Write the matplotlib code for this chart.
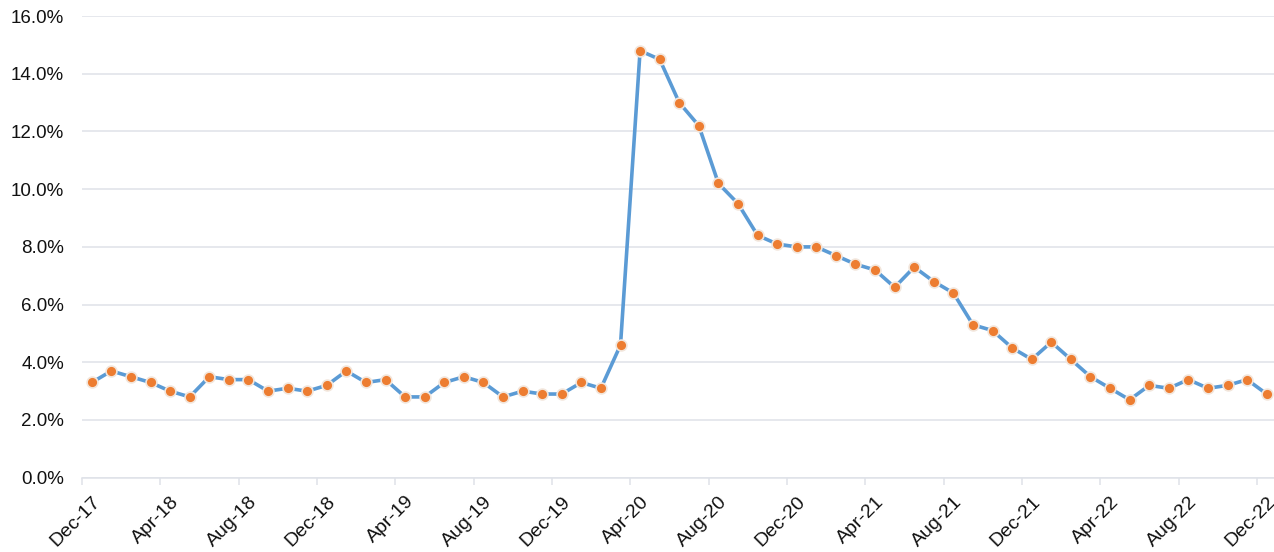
import numpy as np
import matplotlib.pyplot as plt
from matplotlib.ticker import FuncFormatter

plt.rcParams['font.family'] = ['Liberation Sans', 'DejaVu Sans']

# monthly values, Dec-17 .. Dec-22
months = ['Dec-17', 'Jan-18', 'Feb-18', 'Mar-18', 'Apr-18', 'May-18', 'Jun-18', 'Jul-18', 'Aug-18',
          'Sep-18', 'Oct-18', 'Nov-18', 'Dec-18', 'Jan-19', 'Feb-19', 'Mar-19', 'Apr-19', 'May-19',
          'Jun-19', 'Jul-19', 'Aug-19', 'Sep-19', 'Oct-19', 'Nov-19', 'Dec-19', 'Jan-20', 'Feb-20',
          'Mar-20', 'Apr-20', 'May-20', 'Jun-20', 'Jul-20', 'Aug-20', 'Sep-20', 'Oct-20', 'Nov-20',
          'Dec-20', 'Jan-21', 'Feb-21', 'Mar-21', 'Apr-21', 'May-21', 'Jun-21', 'Jul-21', 'Aug-21',
          'Sep-21', 'Oct-21', 'Nov-21', 'Dec-21', 'Jan-22', 'Feb-22', 'Mar-22', 'Apr-22', 'May-22',
          'Jun-22', 'Jul-22', 'Aug-22', 'Sep-22', 'Oct-22', 'Nov-22', 'Dec-22']
rate = [3.3, 3.7, 3.5, 3.3, 3.0, 2.8, 3.5, 3.4, 3.4, 3.0, 3.1, 3.0, 3.2,
        3.7, 3.3, 3.4, 2.8, 2.8, 3.3, 3.5, 3.3, 2.8, 3.0, 2.9, 2.9,
        3.3, 3.1, 4.6, 14.8, 14.5, 13.0, 12.2, 10.2, 9.5, 8.4, 8.1, 8.0,
        8.0, 7.7, 7.4, 7.2, 6.6, 7.3, 6.8, 6.4, 5.3, 5.1, 4.5, 4.1,
        4.7, 4.1, 3.5, 3.1, 2.7, 3.2, 3.1, 3.4, 3.1, 3.2, 3.4, 2.9]
label_every = 4

grid_col = '#dfe2e8'

fig = plt.figure(figsize=(12.74, 5.52), dpi=100)
ax = fig.add_axes([82 / 1274, 74.3 / 552, 1194.5 / 1274, 461.6 / 552])

x = np.arange(len(months))
ax.plot(x, rate, color='#5b9bd5', lw=2.6, marker='o', markersize=7.8,
        markerfacecolor='#ed7d31', markeredgecolor='#f2e6dc', markeredgewidth=1.2,
        zorder=3, clip_on=False)

ax.set_xlim(-0.5, len(months) - 0.5)
ax.set_ylim(0, 16)
ax.set_yticks(np.arange(0, 16.1, 2))
ax.yaxis.set_major_formatter(FuncFormatter(lambda v, p: f'{v:.1f}%'))
ax.grid(axis='y', color=grid_col, lw=1.1)
ax.set_axisbelow(True)

# category labels on data points, tick marks between categories
ax.set_xticks(x[::label_every])
ax.set_xticklabels(months[::label_every], rotation=45, ha='right', va='top',
                   rotation_mode='anchor')
ax.set_xticks(np.arange(-0.5, len(months), label_every), minor=True)
ax.tick_params(axis='x', which='major', length=0, pad=11, labelsize=14, labelcolor='#111111')
ax.tick_params(axis='x', which='minor', length=5, color=grid_col, width=1.1)
ax.tick_params(axis='y', length=0, pad=13, labelsize=13.5, labelcolor='#111111')

for s in ['top', 'right', 'left']:
    ax.spines[s].set_visible(False)
ax.spines['bottom'].set_color(grid_col)
ax.spines['bottom'].set_linewidth(1.1)

fig.savefig('out.png', dpi=100)
